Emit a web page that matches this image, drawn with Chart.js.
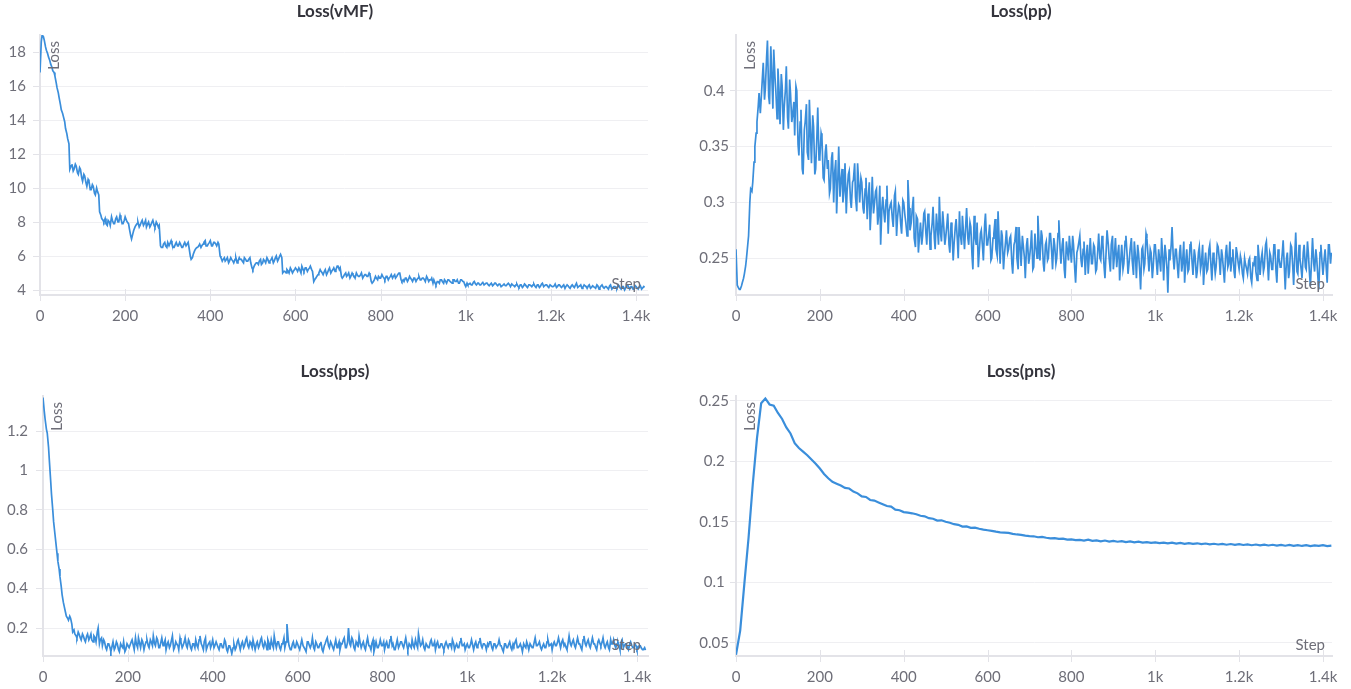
<!DOCTYPE html>
<html>
<head>
<meta charset="utf-8">
<title>Loss</title>
<script src="https://cdn.jsdelivr.net/npm/chart.js@4"></script>
<style>
html, body { margin: 0; padding: 0; background: #fff; overflow: hidden; }
canvas { position: absolute; }
</style>
</head>
<body>
<canvas id="lossVmf" width="670" height="330" style="left:0px;top:0px"></canvas>
<canvas id="lossPp" width="670" height="330" style="left:686px;top:0px"></canvas>
<canvas id="lossPps" width="670" height="329" style="left:0px;top:360px"></canvas>
<canvas id="lossPns" width="670" height="329" style="left:686px;top:360px"></canvas>
<script>
var steps5 = [
  0,5,10,15,20,25,30,35,40,45,50,55,60,65,70,75,80,85,90,95,
  100,105,110,115,120,125,130,135,140,145,150,155,160,165,170,175,180,185,190,195,
  200,205,210,215,220,225,230,235,240,245,250,255,260,265,270,275,280,285,290,295,
  300,305,310,315,320,325,330,335,340,345,350,355,360,365,370,375,380,385,390,395,
  400,405,410,415,420,425,430,435,440,445,450,455,460,465,470,475,480,485,490,495,
  500,505,510,515,520,525,530,535,540,545,550,555,560,565,570,575,580,585,590,595,
  600,605,610,615,620,625,630,635,640,645,650,655,660,665,670,675,680,685,690,695,
  700,705,710,715,720,725,730,735,740,745,750,755,760,765,770,775,780,785,790,795,
  800,805,810,815,820,825,830,835,840,845,850,855,860,865,870,875,880,885,890,895,
  900,905,910,915,920,925,930,935,940,945,950,955,960,965,970,975,980,985,990,995,
  1000,1005,1010,1015,1020,1025,1030,1035,1040,1045,1050,1055,1060,1065,1070,1075,1080,1085,1090,1095,
  1100,1105,1110,1115,1120,1125,1130,1135,1140,1145,1150,1155,1160,1165,1170,1175,1180,1185,1190,1195,
  1200,1205,1210,1215,1220,1225,1230,1235,1240,1245,1250,1255,1260,1265,1270,1275,1280,1285,1290,1295,
  1300,1305,1310,1315,1320,1325,1330,1335,1340,1345,1350,1355,1360,1365,1370,1375,1380,1385,1390,1395,
  1400,1405,1410,1415,1420
];
var steps3 = [
  3,8,13,18,23,28,33,38,43,48,53,58,63,68,73,78,83,88,93,98,
  103,108,113,118,123,128,133,138,143,148,153,158,163,168,173,178,183,188,193,198,
  203,208,213,218,223,228,233,238,243,248,253,258,263,268,273,278,283,288,293,298,
  303,308,313,318,323,328,333,338,343,348,353,358,363,368,373,378,383,388,393,398,
  403,408,413,418,423,428,433,438,443,448,453,458,463,468,473,478,483,488,493,498,
  503,508,513,518,523,528,533,538,543,548,553,558,563,568,573,578,583,588,593,598,
  603,608,613,618,623,628,633,638,643,648,653,658,663,668,673,678,683,688,693,698,
  703,708,713,718,723,728,733,738,743,748,753,758,763,768,773,778,783,788,793,798,
  803,808,813,818,823,828,833,838,843,848,853,858,863,868,873,878,883,888,893,898,
  903,908,913,918,923,928,933,938,943,948,953,958,963,968,973,978,983,988,993,998,
  1003,1008,1013,1018,1023,1028,1033,1038,1043,1048,1053,1058,1063,1068,1073,1078,1083,1088,1093,1098,
  1103,1108,1113,1118,1123,1128,1133,1138,1143,1148,1153,1158,1163,1168,1173,1178,1183,1188,1193,1198,
  1203,1208,1213,1218,1223,1228,1233,1238,1243,1248,1253,1258,1263,1268,1273,1278,1283,1288,1293,1298,
  1303,1308,1313,1318,1323,1328,1333,1338,1343,1348,1353,1358,1363,1368,1373,1378,1383,1388,1393,1398,
  1403,1408,1413,1418
];
var steps10 = [
  0,10,20,30,40,50,60,70,80,90,100,110,120,130,140,150,160,170,180,190,
  200,210,220,230,240,250,260,270,280,290,300,310,320,330,340,350,360,370,380,390,
  400,410,420,430,440,450,460,470,480,490,500,510,520,530,540,550,560,570,580,590,
  600,610,620,630,640,650,660,670,680,690,700,710,720,730,740,750,760,770,780,790,
  800,810,820,830,840,850,860,870,880,890,900,910,920,930,940,950,960,970,980,990,
  1000,1010,1020,1030,1040,1050,1060,1070,1080,1090,1100,1110,1120,1130,1140,1150,1160,1170,1180,1190,
  1200,1210,1220,1230,1240,1250,1260,1270,1280,1290,1300,1310,1320,1330,1340,1350,1360,1370,1380,1390,
  1400,1410,1420
];

var vmfLoss = [
  16.8,19.0,18.7,18.1,17.7,17.3,16.9,16.6,15.9,15.3,
  14.6,14.2,13.5,12.9,11.1,11.4,11.1,11.3,10.8,11.1,
  10.4,10.7,10.1,10.4,9.9,10.1,9.6,9.8,8.6,8.2,
  8.0,7.9,8.1,7.8,8.1,7.9,8.3,8.0,8.2,7.9,
  8.3,8.0,7.6,7.0,7.5,7.8,8.0,7.8,8.1,7.9,
  7.7,8.0,7.8,8.1,7.7,7.9,7.8,6.5,6.7,6.6,
  6.8,6.6,6.7,6.5,6.8,6.6,6.7,6.5,6.8,6.6,
  6.5,5.8,6.1,6.4,6.5,6.7,6.6,6.8,6.6,6.7,
  6.9,6.6,6.8,6.6,6.7,5.9,5.8,5.7,5.9,5.7,
  5.8,5.6,5.9,5.7,5.8,5.7,5.9,5.7,5.8,5.6,
  5.2,5.5,5.6,5.7,5.5,5.8,5.6,5.8,5.7,5.9,
  5.7,6.0,5.8,6.1,5.0,5.1,5.2,5.0,5.2,5.1,
  5.3,5.1,5.2,5.4,5.1,5.3,5.2,5.4,5.1,4.6,
  4.8,5.0,5.1,4.9,5.2,5.0,5.3,5.1,5.3,5.2,
  5.4,5.3,4.7,4.9,4.8,5.0,4.8,4.9,4.7,4.9,
  4.8,5.0,4.8,4.9,4.8,4.9,4.4,4.6,4.7,4.8,
  4.7,4.8,4.6,4.8,4.7,4.9,4.8,4.7,4.9,5.0,
  4.5,4.5,4.7,4.6,4.7,4.5,4.7,4.6,4.8,4.6,
  4.7,4.5,4.7,4.6,4.7,4.6,4.3,4.5,4.6,4.5,
  4.6,4.4,4.6,4.5,4.6,4.5,4.6,4.4,4.6,4.5,
  4.2,4.3,4.4,4.3,4.5,4.3,4.4,4.3,4.45,4.3,
  4.4,4.25,4.4,4.3,4.4,4.25,4.35,4.2,4.35,4.25,
  4.4,4.2,4.3,4.2,4.35,4.15,4.3,4.2,4.3,4.15,
  4.3,4.2,4.35,4.15,4.3,4.2,4.4,4.25,4.3,4.15,
  4.3,4.2,4.35,4.2,4.3,4.15,4.3,4.2,4.25,4.1,
  4.3,4.15,4.4,4.2,4.3,4.15,4.25,4.1,4.3,4.15,
  4.2,4.1,4.25,4.15,4.3,4.1,4.2,4.05,4.3,4.1,
  4.2,4.1,4.25,4.05,4.2,4.1,4.3,4.05,4.2,4.1,
  4.2,4.05,4.25,4.1,4.15
];
var vmfLossMid = [
  18.6,18.9,18.3,17.9,17.5,17.1,16.8,16.2,15.6,14.9,
  14.4,13.9,13.2,12.6,11.3,11.0,11.4,10.9,11.2,10.6,
  10.8,10.3,10.5,9.9,10.2,9.7,10.0,9.6,8.4,8.1,
  8.2,7.8,8.0,8.3,7.9,8.2,8.0,8.4,7.9,8.1,
  8.1,7.9,7.2,7.3,7.7,7.9,7.7,8.0,7.8,8.1,
  7.9,7.7,8.0,7.8,8.0,7.7,6.6,6.5,6.8,6.5,
  6.6,6.9,6.5,6.7,6.6,6.8,6.5,6.7,6.6,6.8,
  6.0,5.9,6.3,6.5,6.6,6.5,6.7,6.9,6.6,6.8,
  6.6,6.8,6.7,6.8,6.0,5.7,5.9,5.8,5.6,5.9,
  5.7,5.8,5.6,5.9,5.8,5.6,5.8,5.7,5.9,5.3,
  5.4,5.6,5.5,5.8,5.6,5.7,5.9,5.6,5.8,5.6,
  5.9,5.7,6.0,5.9,5.1,5.0,5.1,5.3,5.0,5.2,
  5.2,5.3,5.0,5.2,5.3,5.1,5.3,5.2,4.5,4.7,
  4.9,5.2,5.0,5.1,4.9,5.2,5.0,5.2,5.1,5.4,
  5.2,4.8,4.8,5.0,4.9,4.7,5.0,4.8,5.0,4.8,
  4.9,4.7,4.9,4.8,5.0,4.5,4.5,4.8,4.6,4.7,
  4.9,4.7,4.8,4.6,4.8,4.7,4.9,4.8,5.0,4.6,
  4.6,4.7,4.5,4.8,4.6,4.7,4.5,4.7,4.6,4.7,
  4.6,4.8,4.5,4.6,4.4,4.4,4.5,4.4,4.6,4.4,
  4.5,4.6,4.5,4.4,4.6,4.5,4.4,4.6,4.5,4.3,
  4.4,4.35,4.3,4.45,4.35,4.4,4.3,4.4,4.3,4.4,
  4.3,4.35,4.25,4.4,4.3,4.35,4.2,4.3,4.25,4.35,
  4.3,4.35,4.25,4.3,4.2,4.3,4.15,4.35,4.2,4.3,
  4.25,4.3,4.2,4.3,4.15,4.35,4.2,4.3,4.2,4.3,
  4.2,4.25,4.15,4.3,4.2,4.25,4.1,4.3,4.15,4.25,
  4.2,4.3,4.15,4.25,4.1,4.3,4.2,4.25,4.1,4.25,
  4.15,4.3,4.05,4.25,4.15,4.2,4.1,4.25,4.05,4.2,
  4.15,4.3,4.1,4.2,4.0,4.25,4.15,4.2,4.05,4.25,
  4.1,4.2,4.05,4.2
];

var ppLoss = [
  0.258,0.224,0.222,0.228,0.236,0.250,0.270,0.312,0.318,0.350,
  0.372,0.398,0.392,0.425,0.402,0.445,0.388,0.418,0.437,0.400,
  0.420,0.370,0.405,0.385,0.422,0.366,0.398,0.378,0.360,0.400,
  0.342,0.383,0.325,0.372,0.345,0.392,0.335,0.368,0.330,0.385,
  0.340,0.358,0.320,0.352,0.338,0.312,0.345,0.325,0.290,0.350,
  0.318,0.300,0.335,0.310,0.328,0.295,0.320,0.305,0.335,0.300,
  0.318,0.290,0.322,0.302,0.275,0.323,0.298,0.312,0.288,0.262,
  0.305,0.282,0.315,0.292,0.300,0.278,0.310,0.285,0.296,0.272,
  0.300,0.282,0.320,0.275,0.292,0.268,0.288,0.255,0.282,0.270,
  0.292,0.262,0.285,0.270,0.296,0.258,0.280,0.305,0.265,0.282,
  0.268,0.290,0.255,0.276,0.262,0.285,0.250,0.272,0.288,0.258,
  0.295,0.262,0.278,0.240,0.270,0.282,0.255,0.275,0.248,0.290,
  0.262,0.280,0.250,0.272,0.258,0.292,0.245,0.270,0.252,0.275,
  0.258,0.270,0.236,0.265,0.250,0.278,0.243,0.262,0.232,0.268,
  0.250,0.275,0.242,0.262,0.288,0.248,0.270,0.238,0.265,0.250,
  0.272,0.240,0.262,0.250,0.284,0.245,0.268,0.232,0.258,0.270,
  0.246,0.262,0.228,0.258,0.270,0.242,0.265,0.250,0.236,0.268,
  0.245,0.260,0.240,0.272,0.248,0.264,0.232,0.275,0.250,0.262,
  0.240,0.268,0.252,0.230,0.262,0.245,0.270,0.236,0.258,0.248,
  0.265,0.232,0.255,0.222,0.260,0.245,0.268,0.238,0.255,0.242,
  0.262,0.235,0.250,0.268,0.230,0.255,0.219,0.248,0.278,0.240,
  0.258,0.232,0.262,0.245,0.228,0.258,0.240,0.265,0.235,0.252,
  0.238,0.260,0.245,0.226,0.255,0.240,0.262,0.230,0.250,0.242,
  0.260,0.235,0.252,0.228,0.262,0.245,0.238,0.258,0.232,0.255,
  0.240,0.248,0.232,0.245,0.236,0.250,0.228,0.244,0.238,0.262,
  0.235,0.255,0.242,0.265,0.230,0.252,0.240,0.262,0.228,0.250,
  0.242,0.266,0.222,0.255,0.238,0.260,0.226,0.273,0.236,0.250,
  0.232,0.262,0.240,0.255,0.225,0.268,0.238,0.250,0.222,0.262,
  0.235,0.258,0.228,0.262,0.255
];
var ppLossMid = [
  0.226,0.222,0.225,0.232,0.243,0.262,0.300,0.310,0.336,0.362,
  0.386,0.380,0.412,0.392,0.430,0.395,0.440,0.384,0.412,0.375,
  0.398,0.415,0.365,0.402,0.376,0.410,0.372,0.390,0.404,0.352,
  0.372,0.330,0.365,0.388,0.338,0.358,0.378,0.325,0.360,0.338,
  0.362,0.322,0.345,0.330,0.308,0.340,0.300,0.338,0.322,0.305,
  0.330,0.312,0.290,0.325,0.302,0.318,0.335,0.292,0.315,0.322,
  0.295,0.312,0.285,0.318,0.300,0.290,0.310,0.280,0.315,0.295,
  0.290,0.302,0.272,0.298,0.285,0.306,0.270,0.298,0.280,0.302,
  0.288,0.270,0.295,0.282,0.305,0.260,0.285,0.272,0.262,0.290,
  0.272,0.290,0.258,0.282,0.268,0.290,0.262,0.272,0.292,0.262,
  0.280,0.262,0.282,0.248,0.278,0.266,0.292,0.262,0.270,0.280,
  0.268,0.282,0.252,0.288,0.262,0.242,0.272,0.260,0.280,0.262,
  0.272,0.248,0.268,0.285,0.252,0.262,0.275,0.240,0.265,0.255,
  0.268,0.245,0.262,0.278,0.240,0.258,0.270,0.250,0.262,0.245,
  0.262,0.240,0.272,0.250,0.262,0.275,0.245,0.262,0.248,0.272,
  0.255,0.268,0.245,0.272,0.258,0.262,0.240,0.265,0.248,0.255,
  0.270,0.240,0.255,0.265,0.248,0.258,0.235,0.262,0.255,0.245,
  0.262,0.238,0.258,0.250,0.270,0.242,0.258,0.262,0.238,0.270,
  0.255,0.242,0.262,0.250,0.240,0.265,0.252,0.248,0.268,0.235,
  0.250,0.262,0.238,0.258,0.240,0.272,0.250,0.258,0.232,0.262,
  0.245,0.258,0.238,0.250,0.262,0.240,0.258,0.262,0.250,0.258,
  0.242,0.255,0.238,0.265,0.248,0.238,0.262,0.245,0.258,0.232,
  0.255,0.240,0.262,0.245,0.238,0.258,0.242,0.255,0.236,0.262,
  0.248,0.258,0.238,0.255,0.242,0.265,0.250,0.238,0.260,0.245,
  0.252,0.236,0.250,0.240,0.248,0.232,0.245,0.252,0.230,0.248,
  0.250,0.238,0.262,0.245,0.255,0.240,0.262,0.238,0.258,0.242,
  0.255,0.240,0.250,0.232,0.262,0.242,0.255,0.238,0.262,0.240,
  0.255,0.242,0.265,0.235,0.250,0.245,0.258,0.232,0.255,0.245,
  0.250,0.240,0.262,0.245
];

var ppsLoss = [
  1.37,1.26,1.19,1.05,0.88,0.74,0.64,0.54,0.46,0.37,
  0.31,0.26,0.24,0.25,0.18,0.17,0.15,0.17,0.14,0.16,
  0.13,0.17,0.15,0.14,0.16,0.13,0.20,0.14,0.11,0.13,
  0.09,0.12,0.08,0.13,0.10,0.12,0.08,0.11,0.13,0.09,
  0.12,0.10,0.14,0.09,0.12,0.15,0.10,0.13,0.11,0.14,
  0.10,0.13,0.16,0.11,0.14,0.10,0.15,0.12,0.09,0.13,
  0.11,0.16,0.10,0.12,0.09,0.13,0.11,0.15,0.10,0.13,
  0.09,0.12,0.14,0.10,0.16,0.11,0.13,0.09,0.12,0.10,
  0.14,0.11,0.13,0.09,0.12,0.10,0.13,0.08,0.11,0.07,
  0.12,0.10,0.14,0.09,0.13,0.11,0.15,0.10,0.12,0.14,
  0.09,0.13,0.11,0.15,0.10,0.12,0.14,0.09,0.12,0.16,
  0.10,0.13,0.09,0.12,0.10,0.22,0.11,0.09,0.13,0.10,
  0.12,0.09,0.14,0.11,0.08,0.13,0.10,0.15,0.09,0.12,
  0.10,0.13,0.08,0.12,0.15,0.10,0.12,0.09,0.14,0.11,
  0.09,0.12,0.15,0.10,0.20,0.11,0.14,0.09,0.12,0.16,
  0.10,0.13,0.09,0.15,0.11,0.12,0.08,0.13,0.10,0.14,
  0.11,0.09,0.13,0.10,0.16,0.12,0.09,0.14,0.11,0.13,
  0.10,0.15,0.09,0.12,0.14,0.10,0.12,0.17,0.11,0.14,
  0.09,0.12,0.10,0.14,0.11,0.09,0.13,0.10,0.12,0.09,
  0.13,0.10,0.12,0.14,0.09,0.12,0.10,0.15,0.11,0.09,
  0.12,0.10,0.14,0.09,0.13,0.11,0.15,0.10,0.12,0.09,
  0.11,0.13,0.09,0.12,0.10,0.14,0.11,0.08,0.12,0.10,
  0.13,0.09,0.11,0.14,0.10,0.12,0.08,0.11,0.13,0.09,
  0.12,0.10,0.15,0.11,0.13,0.09,0.12,0.10,0.14,0.11,
  0.09,0.13,0.11,0.15,0.10,0.14,0.12,0.09,0.16,0.11,
  0.14,0.10,0.15,0.12,0.09,0.16,0.11,0.14,0.10,0.15,
  0.12,0.09,0.14,0.11,0.15,0.10,0.13,0.09,0.12,0.14,
  0.10,0.13,0.09,0.14,0.11,0.12,0.09,0.13,0.10,0.12,
  0.09,0.11,0.10,0.09,0.088
];
var ppsLossMid = [
  1.30,1.21,1.12,0.95,0.80,0.68,0.58,0.50,0.41,0.33,
  0.28,0.25,0.26,0.22,0.19,0.16,0.18,0.15,0.17,0.14,
  0.16,0.14,0.17,0.13,0.15,0.18,0.12,0.15,0.14,0.10,
  0.12,0.10,0.11,0.09,0.13,0.09,0.12,0.10,0.08,0.12,
  0.10,0.13,0.11,0.15,0.10,0.12,0.14,0.09,0.13,0.11,
  0.14,0.11,0.12,0.15,0.10,0.13,0.11,0.14,0.12,0.10,
  0.14,0.09,0.13,0.11,0.15,0.10,0.13,0.11,0.14,0.10,
  0.12,0.10,0.11,0.14,0.12,0.09,0.15,0.11,0.13,0.12,
  0.10,0.13,0.10,0.12,0.10,0.14,0.09,0.11,0.09,0.10,
  0.09,0.13,0.11,0.12,0.10,0.14,0.11,0.13,0.10,0.11,
  0.12,0.10,0.14,0.11,0.13,0.09,0.12,0.14,0.10,0.12,
  0.13,0.10,0.12,0.15,0.13,0.14,0.09,0.12,0.10,0.13,
  0.10,0.12,0.11,0.09,0.13,0.11,0.12,0.10,0.13,0.10,
  0.12,0.09,0.11,0.14,0.11,0.13,0.10,0.12,0.10,0.13,
  0.12,0.14,0.10,0.13,0.12,0.15,0.10,0.13,0.11,0.12,
  0.12,0.10,0.13,0.11,0.09,0.14,0.11,0.10,0.12,0.11,
  0.13,0.12,0.10,0.14,0.11,0.09,0.12,0.10,0.13,0.11,
  0.13,0.11,0.12,0.10,0.11,0.14,0.10,0.13,0.12,0.10,
  0.12,0.10,0.13,0.11,0.13,0.12,0.10,0.12,0.10,0.12,
  0.11,0.12,0.10,0.12,0.11,0.10,0.13,0.11,0.12,0.11,
  0.10,0.12,0.11,0.12,0.10,0.13,0.11,0.12,0.11,0.12,
  0.13,0.10,0.12,0.10,0.12,0.11,0.09,0.12,0.10,0.12,
  0.10,0.12,0.13,0.10,0.11,0.10,0.12,0.10,0.11,0.12,
  0.10,0.13,0.11,0.12,0.10,0.11,0.10,0.13,0.11,0.12,
  0.12,0.11,0.13,0.12,0.13,0.11,0.10,0.13,0.12,0.13,
  0.11,0.13,0.12,0.10,0.14,0.12,0.13,0.11,0.13,0.12,
  0.10,0.13,0.12,0.13,0.11,0.12,0.10,0.14,0.12,0.11,
  0.12,0.11,0.13,0.10,0.12,0.10,0.12,0.11,0.10,0.11,
  0.10,0.11,0.09,0.10
];

var pnsLoss = [
  0.040,0.060,0.099,0.137,0.181,0.219,0.248,0.252,0.247,0.246,
  0.240,0.235,0.228,0.223,0.215,0.211,0.208,0.205,0.2015,0.198,
  0.194,0.1895,0.186,0.183,0.1815,0.180,0.178,0.1775,0.175,0.1735,
  0.171,0.1705,0.168,0.1675,0.166,0.1645,0.163,0.1625,0.160,0.1595,
  0.158,0.1575,0.157,0.1562,0.155,0.1545,0.153,0.1525,0.151,0.1512,
  0.150,0.1492,0.148,0.1475,0.146,0.1462,0.145,0.1452,0.1442,0.1435,
  0.143,0.1425,0.1418,0.1412,0.141,0.1408,0.1400,0.1395,0.1392,0.1385,
  0.1382,0.138,0.1372,0.1375,0.1368,0.1362,0.1365,0.1358,0.136,0.1352,
  0.1355,0.1348,0.135,0.1345,0.1352,0.1342,0.1346,0.1338,0.1345,0.1336,
  0.1342,0.1335,0.134,0.1332,0.1337,0.1329,0.1335,0.1327,0.1332,0.1325,
  0.1330,0.1324,0.1328,0.1321,0.1327,0.1319,0.1325,0.1318,0.1323,0.1317,
  0.1322,0.1315,0.1320,0.1313,0.1318,0.1312,0.1317,0.1310,0.1316,0.1309,
  0.1315,0.1308,0.1313,0.1306,0.1312,0.1305,0.1311,0.1304,0.1310,0.1303,
  0.1309,0.1302,0.1308,0.1301,0.1307,0.1300,0.1306,0.1299,0.1305,0.1300,
  0.1306,0.1299,0.1303
];

var xTicks = [0, 200, 400, 600, 800, 1000, 1200, 1400];
var xTickLabels = ['0', '200', '400', '600', '800', '1k', '1.2k', '1.4k'];
var vmfTicks = [4, 6, 8, 10, 12, 14, 16, 18];
var vmfTickLabels = ['4', '6', '8', '10', '12', '14', '16', '18'];
var ppTicks = [0.25, 0.3, 0.35, 0.4];
var ppTickLabels = ['0.25', '0.3', '0.35', '0.4'];
var ppsTicks = [0.2, 0.4, 0.6, 0.8, 1, 1.2];
var ppsTickLabels = ['0.2', '0.4', '0.6', '0.8', '1', '1.2'];
var pnsTicks = [0.05, 0.1, 0.15, 0.2, 0.25];
var pnsTickLabels = ['0.05', '0.1', '0.15', '0.2', '0.25'];

var fontFamily = "'Source Sans Pro', Lato, sans-serif";
var lineColor = '#3a8edb';
var axisColor = '#e3e3e8';
var gridColor = '#efeff2';
var labelColor = '#6e6e78';

Chart.defaults.font.family = fontFamily;
Chart.defaults.color = labelColor;

// put the two read-off sets back into one run, ordered by step
function toPoints(stepsA, valsA, stepsB, valsB) {
    var pts = stepsA.map(function (s, i) { return { x: s, y: valsA[i] }; });
    if (stepsB) {
        stepsB.forEach(function (s, i) { pts.push({ x: s, y: valsB[i] }); });
        pts.sort(function (a, b) { return a.x - b.x; });
    }
    return pts;
}

// panel title, "Loss" / "Step" captions and the small ticks crossing the x axis
var axisNotes = {
    id: 'axisNotes',
    beforeDatasetsDraw: function (chart) {
        var ctx = chart.ctx, a = chart.chartArea, sx = chart.scales.x;
        ctx.save();
        ctx.strokeStyle = axisColor;
        ctx.lineWidth = 1;
        xTicks.forEach(function (v) {
            var px = Math.round(sx.getPixelForValue(v)) + 0.5;
            ctx.beginPath();
            ctx.moveTo(px, a.bottom - 6);
            ctx.lineTo(px, a.bottom + 6);
            ctx.stroke();
        });
        ctx.restore();
    },
    afterDatasetsDraw: function (chart, args, opts) {
        var ctx = chart.ctx, a = chart.chartArea;
        ctx.save();
        ctx.textBaseline = 'middle';
        ctx.fillStyle = '#34343c';
        ctx.font = 'bold 17px ' + fontFamily;
        ctx.textAlign = 'center';
        ctx.fillText(opts.title, 335, 12);

        ctx.fillStyle = labelColor;
        ctx.font = '15px ' + fontFamily;
        ctx.textAlign = 'right';
        ctx.fillText('Step', a.right - 7, a.bottom - 11);
        ctx.translate(a.left + 14, a.top + 6);
        ctx.rotate(-Math.PI / 2);
        ctx.fillText('Loss', 0, 0);
        ctx.restore();
    }
};

function drawLossChart(id, title, points, opt) {
    var ctx = document.getElementById(id).getContext('2d');
    return new Chart(ctx, {
        type: 'line',
        data: {
            datasets: [{
                data: points,
                borderColor: lineColor,
                borderWidth: opt.lineWidth,
                pointRadius: 0,
                tension: 0,
                fill: false
            }]
        },
        options: {
            responsive: false,
            animation: false,
            events: [],
            layout: { padding: { top: opt.padTop, right: opt.padRight } },
            plugins: {
                legend: { display: false },
                tooltip: { enabled: false },
                title: { display: false },
                axisNotes: { title: title }
            },
            scales: {
                x: {
                    type: 'linear',
                    min: 0,
                    max: opt.xMax,
                    afterBuildTicks: function (s) { s.ticks = xTicks.map(function (v) { return { value: v }; }); },
                    afterFit: function (s) { s.height = opt.xHeight; },
                    grid: { display: false, drawTicks: false },
                    border: { display: true, color: axisColor, width: 2 },
                    ticks: {
                        autoSkip: false,
                        maxRotation: 0,
                        padding: 12,
                        font: { size: 15 },
                        callback: function (v, i) { return xTickLabels[i]; }
                    }
                },
                y: {
                    min: opt.yMin,
                    max: opt.yMax,
                    afterBuildTicks: function (s) { s.ticks = opt.yTicks.map(function (v) { return { value: v }; }); },
                    afterFit: function (s) { s.width = opt.yWidth; },
                    grid: { color: gridColor, tickColor: axisColor, tickLength: opt.tickLen },
                    border: { display: true, color: axisColor, width: 2 },
                    ticks: {
                        padding: opt.labelPad,
                        crossAlign: opt.crossAlign,
                        font: { size: 15 },
                        callback: function (v, i) { return opt.yLabels[i]; }
                    }
                }
            }
        },
        plugins: [axisNotes]
    });
}

drawLossChart('lossVmf', 'Loss(vMF)', toPoints(steps5, vmfLoss, steps3, vmfLossMid), {
    xMax: 1428, yMin: 3.706, yMax: 19.0, yTicks: vmfTicks, yLabels: vmfTickLabels, lineWidth: 1.7,
    yWidth: 40, xHeight: 35, padTop: 35, padRight: 22, tickLen: 7, labelPad: 7, crossAlign: 'near'
});
drawLossChart('lossPp', 'Loss(pp)', toPoints(steps5, ppLoss, steps3, ppLossMid), {
    xMax: 1421.5, yMin: 0.217, yMax: 0.45, yTicks: ppTicks, yLabels: ppTickLabels, lineWidth: 1.7,
    yWidth: 50, xHeight: 35, padTop: 35, padRight: 24, tickLen: 6, labelPad: 1, crossAlign: 'center'
});
drawLossChart('lossPps', 'Loss(pps)', toPoints(steps5, ppsLoss, steps3, ppsLossMid), {
    xMax: 1426, yMin: 0.058, yMax: 1.378, yTicks: ppsTicks, yLabels: ppsTickLabels, lineWidth: 1.7,
    yWidth: 43, xHeight: 33, padTop: 36, padRight: 22, tickLen: 7, labelPad: 8, crossAlign: 'near'
});
drawLossChart('lossPns', 'Loss(pns)', toPoints(steps10, pnsLoss), {
    xMax: 1421.5, yMin: 0.039, yMax: 0.254, yTicks: pnsTicks, yLabels: pnsTickLabels, lineWidth: 2.2,
    yWidth: 50, xHeight: 33, padTop: 36, padRight: 24, tickLen: 6, labelPad: 1, crossAlign: 'center'
});
</script>
</body>
</html>
